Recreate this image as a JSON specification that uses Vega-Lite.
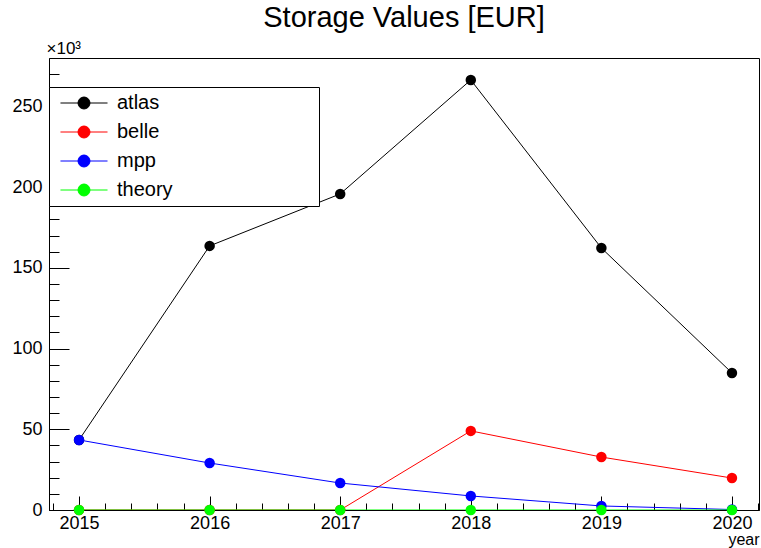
{
  "$schema": "https://vega.github.io/schema/vega-lite/v6.json",
  "autosize": {"type": "none"},
  "width": 710,
  "height": 452,
  "padding": {"left": 49, "top": 58, "right": 2, "bottom": 38},
  "background": "white",
  "config": {
    "font": "Liberation Sans",
    "view": {"stroke": "black", "strokeWidth": 1},
    "axis": {"grid": false, "domainColor": "black", "tickColor": "black", "labelColor": "black", "titleColor": "black", "labelFont": "Liberation Sans", "titleFont": "Liberation Sans", "labelFontSize": 18, "titleFontWeight": "normal"}
  },
  "title": {"text": "Storage Values [EUR]", "fontSize": 29, "fontWeight": "normal", "font": "Liberation Sans", "color": "black", "anchor": "middle", "baseline": "alphabetic", "offset": 9, "dy": 26},
  "data": {
    "values": [
      {"year": 2015, "group": "atlas", "value": 43.4},
      {"year": 2016, "group": "atlas", "value": 163.6},
      {"year": 2017, "group": "atlas", "value": 195.8},
      {"year": 2018, "group": "atlas", "value": 266.4},
      {"year": 2019, "group": "atlas", "value": 162.3},
      {"year": 2020, "group": "atlas", "value": 84.9},
      {"year": 2015, "group": "belle", "value": 0},
      {"year": 2016, "group": "belle", "value": 0},
      {"year": 2017, "group": "belle", "value": 0},
      {"year": 2018, "group": "belle", "value": 49},
      {"year": 2019, "group": "belle", "value": 32.8},
      {"year": 2020, "group": "belle", "value": 19.8},
      {"year": 2015, "group": "mpp", "value": 43.4},
      {"year": 2016, "group": "mpp", "value": 29.1},
      {"year": 2017, "group": "mpp", "value": 16.7},
      {"year": 2018, "group": "mpp", "value": 8.7},
      {"year": 2019, "group": "mpp", "value": 2.5},
      {"year": 2020, "group": "mpp", "value": 0.3},
      {"year": 2015, "group": "theory", "value": 0},
      {"year": 2016, "group": "theory", "value": 0},
      {"year": 2017, "group": "theory", "value": 0},
      {"year": 2018, "group": "theory", "value": 0},
      {"year": 2019, "group": "theory", "value": 0},
      {"year": 2020, "group": "theory", "value": 0}
    ]
  },
  "encoding": {
    "x": {
      "field": "year", "type": "quantitative",
      "scale": {"domain": [2014.77, 2020.207], "nice": false, "zero": false},
      "axis": {
        "values": [2014.8, 2015, 2015.2, 2015.4, 2015.6, 2015.8, 2016, 2016.2, 2016.4, 2016.6, 2016.8, 2017, 2017.2, 2017.4, 2017.6, 2017.8, 2018, 2018.2, 2018.4, 2018.6, 2018.8, 2019, 2019.2, 2019.4, 2019.6, 2019.8, 2020, 2020.2],
        "labelExpr": "abs(datum.value - round(datum.value)) < 0.001 ? format(datum.value, 'd') : ''",
        "tickSize": {"condition": {"test": "abs(datum.value - round(datum.value)) < 0.001", "value": -14}, "value": -7},
        "labelPadding": 18,
        "labelFlush": false,
        "labelOverlap": false,
        "title": "year",
        "titleFontSize": 16,
        "titleAlign": "right",
        "titleAnchor": "end",
        "titleX": 710,
        "titleY": 34,
        "titleBaseline": "alphabetic"
      }
    },
    "y": {
      "field": "value", "type": "quantitative",
      "scale": {"domain": [0, 280], "nice": false},
      "axis": {
        "values": [0, 10, 20, 30, 40, 50, 60, 70, 80, 90, 100, 110, 120, 130, 140, 150, 160, 170, 180, 190, 200, 210, 220, 230, 240, 250, 260, 270],
        "labelExpr": "datum.value % 50 === 0 ? datum.label : ''",
        "tickSize": {"condition": {"test": "datum.value % 50 === 0", "value": -20}, "value": -10},
        "labelPadding": 27,
        "labelOverlap": false,
        "labelFlush": false,
        "title": "×10³",
        "titleFontSize": 17,
        "titleAngle": 0,
        "titleAlign": "left",
        "titleBaseline": "alphabetic",
        "titleX": -3,
        "titleY": -5
      }
    },
    "color": {
      "field": "group", "type": "nominal",
      "scale": {"domain": ["atlas", "belle", "mpp", "theory"], "range": ["#000000", "#ff0000", "#0000ff", "#00ff00"]},
      "legend": {
        "title": "MMMMMMMMMMMM",
        "titleOrient": "right",
        "titleColor": "white",
        "titleFontSize": 14,
        "titlePadding": 0,
        "orient": "none",
        "legendX": 0,
        "legendY": 29,
        "fillColor": "white",
        "strokeColor": "black",
        "padding": 6,
        "rowPadding": 9,
        "labelFontSize": 20,
        "labelFont": "Liberation Sans",
        "labelColor": "black",
        "labelLimit": 300,
        "symbolType": "M-3.36,0H3.36M-0.857,0A0.857,0.857,0,1,1,0.857,0A0.857,0.857,0,1,1,-0.857,0Z",
        "symbolSize": 196,
        "symbolStrokeWidth": 1,
        "symbolOffset": 19,
        "labelOffset": 23,
        "encode": {"symbols": {"update": {"fill": {"scale": "color", "field": "value"}, "stroke": {"scale": "color", "field": "value"}, "opacity": {"value": 1}}}}
      }
    }
  },
  "layer": [
    {"mark": {"type": "line", "strokeWidth": 1, "clip": true}},
    {"mark": {"type": "point", "filled": true, "size": 110, "opacity": 1, "shape": "circle"}}
  ]
}
